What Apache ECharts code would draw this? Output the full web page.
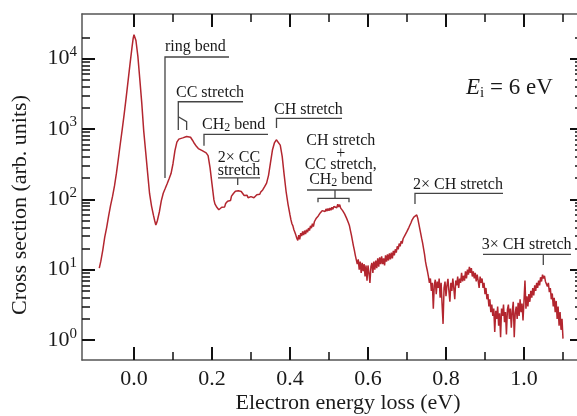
<!DOCTYPE html>
<html><head><meta charset="utf-8">
<script src="https://cdn.jsdelivr.net/npm/echarts@6/dist/echarts.min.js"></script>
<style>html,body{margin:0;padding:0;background:#fff}#c{width:577px;height:416px}</style>
</head><body><div id="c"></div>
<script>
// Electron energy loss (eV), cross section (arb. units)
const spectrum = [
[-0.089,10.5],[-0.085,13.2],[-0.080,19],[-0.075,29],[-0.070,40],[-0.065,58],[-0.060,82],[-0.055,110],
[-0.050,155],[-0.045,235],[-0.040,380],[-0.035,620],[-0.030,1000],[-0.025,1650],[-0.020,2800],[-0.015,4900],
[-0.010,8500],[-0.005,14500],[-0.002,19500],[0.000,21800],[0.002,21000],[0.005,18000],[0.010,10700],[0.015,5000],
[0.020,2300],[0.025,930],[0.030,470],[0.035,235],[0.040,120],[0.045,80],[0.050,59],[0.053,50],[0.056,43],
[0.058,46],[0.060,50],[0.065,66],[0.070,95],[0.075,122],[0.080,142],[0.085,166],[0.090,196],[0.095,232],
[0.100,320],[0.105,490],[0.110,650],[0.115,715],[0.120,725],[0.125,745],[0.130,760],[0.135,780],[0.140,795],
[0.145,760],[0.150,690],[0.155,620],[0.160,565],[0.165,525],[0.170,500],[0.175,490],[0.180,478],[0.185,457],
[0.190,417],[0.195,282],[0.200,166],[0.205,98],[0.2075,86],[0.210,82],[0.2125,77],[0.215,79],[0.2175,71],
[0.220,75],[0.2225,69],[0.225,77],[0.2275,73],[0.230,82],[0.2325,78],[0.235,87],[0.2375,83],[0.240,94],
[0.2425,89],[0.245,100],[0.2475,96],[0.250,111],[0.2525,106],[0.255,121],[0.2575,117],[0.260,130],[0.2625,126],
[0.265,137],[0.2675,132],[0.270,139],[0.2725,130],[0.275,129],[0.2775,121],[0.280,122],[0.2825,113],[0.285,117],
[0.2875,108],[0.290,114],[0.2925,105],[0.295,112],[0.2975,103],[0.300,109],[0.3025,104],[0.305,112],[0.3075,105],
[0.310,112],[0.3125,107],[0.315,116],[0.3175,111],[0.320,119],[0.3225,118],[0.325,127],[0.3275,127],[0.330,136],
[0.3325,141],[0.335,151],[0.340,170],[0.345,219],[0.350,331],[0.355,501],[0.360,631],[0.365,700],[0.368,708],
[0.370,692],[0.375,589],[0.380,407],[0.385,224],[0.390,129],[0.395,85],[0.400,60],
[0.4025,51],[0.405,45],[0.4075,42],[0.410,37],[0.4125,34],[0.415,31],[0.4175,28],[0.420,26],[0.4225,31],
[0.425,27],[0.4275,33],[0.430,30],[0.4325,35],[0.435,31],[0.4375,36],[0.440,32],[0.4425,37],[0.445,34],
[0.4475,39],[0.450,36],[0.4525,42],[0.455,39],[0.4575,45],[0.460,41],[0.4625,48],[0.465,48],[0.4675,54],
[0.470,51],[0.4725,58],[0.475,57],[0.4775,64],[0.480,61],[0.4825,69],[0.485,66],[0.4875,72],[0.490,67],
[0.4925,73],[0.495,68],[0.4975,74],[0.500,69],[0.5025,75],[0.505,70],[0.5075,77],[0.510,72],[0.5125,79],
[0.515,74],[0.5175,81],[0.520,76],[0.5225,85],[0.525,78],[0.5275,84],[0.530,75],[0.5325,75],[0.535,69],
[0.5375,68],[0.540,62],[0.5425,61],[0.545,54],[0.5475,53],[0.550,46],[0.5525,42],[0.555,36],[0.5575,31],
[0.560,26],[0.5625,22],[0.565,19],[0.5675,16],[0.570,15],[0.5725,12],[0.575,14],[0.5775,10],[0.580,13],
[0.5825,9],[0.585,12.5],[0.5875,9.5],[0.590,12],[0.5925,8],[0.595,11.5],[0.5975,7],[0.600,11.5],[0.6025,9],
[0.605,6.5],[0.6075,11],[0.610,12.5],[0.6125,9],[0.615,13],[0.6175,10],[0.620,13.5],[0.6225,10.5],[0.625,14.5],
[0.6275,11],[0.630,15],[0.6325,12],[0.635,15.5],[0.6375,12],[0.640,14.5],[0.6425,11.5],[0.645,16],[0.6475,13],
[0.650,16.5],[0.6525,13.5],[0.655,17],[0.6575,14],[0.660,17.5],[0.6625,14.5],[0.665,18.5],[0.6675,16],[0.670,19.5],
[0.6725,17.5],[0.675,21.5],[0.6775,19.5],[0.680,23.5],[0.6825,21.5],[0.685,25.5],[0.6875,23.5],[0.690,27.5],[0.6925,27.5],
[0.695,31],[0.6975,30],[0.700,35],[0.7025,36],[0.705,40],[0.7075,42],[0.710,46],[0.7125,50],[0.715,53],
[0.7175,56],[0.720,58],[0.7225,55],[0.725,60],[0.7275,54],[0.730,46],[0.7325,39],[0.735,33],[0.7375,28],
[0.740,24],[0.7425,20],[0.745,16.5],[0.7475,13],[0.750,11],[0.7525,9.5],[0.755,8],[0.7575,6.5],[0.760,7.5],
[0.7625,5],[0.765,6.5],[0.7675,2.8],[0.770,6],[0.7725,7.2],[0.775,4.5],[0.7775,6.8],[0.780,5.5],[0.7825,7.5],
[0.785,4],[0.7875,6.5],[0.790,3.2],[0.7925,1.7],[0.795,5.5],[0.7975,6.8],[0.800,4.2],[0.8025,6],[0.805,7.4],
[0.8075,5],[0.810,3.5],[0.8125,6.5],[0.815,5],[0.8175,7.5],[0.820,5.5],[0.8225,3.8],[0.825,7],[0.8275,6],
[0.830,8],[0.8325,5.5],[0.835,7.5],[0.8375,6.5],[0.840,9],[0.8425,6.8],[0.845,8.2],[0.8475,7],[0.850,9.5],
[0.8525,7.5],[0.855,10],[0.8575,8.5],[0.860,11],[0.8625,9],[0.865,10.5],[0.8675,8],[0.870,9.5],[0.8725,7.5],
[0.875,9],[0.8775,6.8],[0.880,8.5],[0.8825,7],[0.885,5.5],[0.8875,8],[0.890,6.5],[0.8925,7.5],[0.895,5.5],
[0.8975,6.5],[0.900,4.5],[0.9025,5.5],[0.905,3.8],[0.9075,4.5],[0.910,3],[0.9125,3.8],[0.915,2.5],[0.9175,3.2],
[0.920,2.2],[0.9225,2.8],[0.925,1.3],[0.9275,2.6],[0.930,2],[0.9325,3],[0.935,1.6],[0.9375,2.4],[0.940,1.1],
[0.9425,2.8],[0.945,2.2],[0.9475,3.2],[0.950,1.8],[0.9525,2.5],[0.955,1.2],[0.9575,2.7],[0.960,3.2],[0.9625,2],
[0.965,2.8],[0.9675,1.5],[0.970,2.6],[0.9725,3.5],[0.975,1.1],[0.9775,2.4],[0.980,3],[0.9825,2],[0.985,3.4],
[0.9875,2.2],[0.990,3.8],[0.9925,2.5],[0.995,3.3],[0.9975,1.9],[1.000,3.6],[1.0025,7],[1.005,2.8],[1.0075,4.2],
[1.010,3],[1.0125,4.5],[1.015,3.5],[1.0175,5],[1.020,4],[1.0225,5.5],[1.025,4.3],[1.0275,6],[1.030,5],
[1.0325,6.5],[1.035,5.5],[1.0375,7],[1.040,6],[1.0425,7.8],[1.045,6.8],[1.0475,8.5],[1.050,7.5],[1.0525,8.2],
[1.055,6.8],[1.0575,7.2],[1.060,5.8],[1.0625,6.5],[1.065,4.8],[1.0675,5.5],[1.070,3.8],[1.0725,4.6],[1.075,3],
[1.0775,4],[1.080,2.5],[1.0825,3.6],[1.085,2],[1.0875,3],[1.090,1.6],[1.0925,2.5],[1.095,1.4],[1.0975,2],[1.100,1.05]
];

const xMajorTicks = [0, 0.2, 0.4, 0.6, 0.8, 1.0];
const xMinorTicks = [0.1, 0.3, 0.5, 0.7, 0.9, 1.1];
const yMajorTicks = [1, 10, 100, 1000, 10000];
const yMinorTicks = [2,3,4,5,6,7,8,9, 20,30,40,50,60,70,80,90, 200,300,400,500,600,700,800,900,
  2000,3000,4000,5000,6000,7000,8000,9000, 20000];

// Peak assignments (bracket points in eV / cross-section units)
const annotations = [
  { texts: [{ text: 'ring bend', x: 0.0795, y: 14550, align: 'left' }],
    lines: [[[0.0795, 200], [0.0795, 10500], [0.2436, 10500]]] },
  { texts: [{ text: 'CC stretch', x: 0.1077, y: 3236, align: 'left' }],
    lines: [[[0.1136, 964], [0.1136, 2430], [0.2795, 2430]], [[0.1136, 1490], [0.135, 1265], [0.135, 964]]] },
  { texts: [{ text: '{n|CH}{s|2}{n| bend}', x: 0.1744, y: 1151, align: 'left' }],
    lines: [[[0.1795, 577], [0.1795, 838], [0.3436, 838]]] },
  { texts: [{ text: '2× CC', x: 0.2692, y: 386, align: 'center' }, { text: 'stretch', x: 0.2692, y: 256, align: 'center' }],
    lines: [[[0.2154, 201], [0.3231, 201]], [[0.2659, 201], [0.2659, 160]]] },
  { texts: [{ text: 'CH stretch', x: 0.359, y: 1879, align: 'left' }],
    lines: [[[0.3654, 1030], [0.3654, 1415], [0.5333, 1415]]] },
  { texts: [{ text: 'CH stretch', x: 0.5303, y: 673, align: 'center' }, { text: '+', x: 0.5303, y: 445, align: 'center' },
            { text: 'CC stretch,', x: 0.5303, y: 307, align: 'center' }, { text: '{n|CH}{s|2}{n| bend}', x: 0.5303, y: 188, align: 'center' }],
    lines: [[[0.4436, 135.5], [0.6103, 135.5]], [[0.5154, 135.5], [0.5154, 103.3]],
            [[0.4718, 90.6], [0.4718, 103.3], [0.5513, 103.3], [0.5513, 90.6]]] },
  { texts: [{ text: '2× CH stretch', x: 0.7154, y: 160, align: 'left' }],
    lines: [[[0.7205, 85.8], [0.7205, 121.7], [0.9462, 121.7]]] },
  { texts: [{ text: '3× CH stretch', x: 0.8915, y: 22.4, align: 'left' }],
    lines: [[[0.8949, 16.55], [1.1205, 16.55]], [[1.0495, 16.55], [1.0495, 11.67]]] }
];

const FONT = 'Liberation Serif';
const TXT = '#1a1a1a';
const AXIS_LINE = '#555';
const TICK = '#111';
const X_MIN = -0.1333, X_MAX = 1.1513, Y_MIN = 0.5216, Y_MAX = 42850;
const LY_MIN = Math.log10(Y_MIN), LY_MAX = Math.log10(Y_MAX);

function xAx(pos, ticks, len, showLine, showLabel) {
  return {
    type: 'value', position: pos, min: X_MIN, max: X_MAX,
    axisLine: { show: showLine, onZero: false, lineStyle: { color: AXIS_LINE, width: 1.5 } },
    axisTick: { show: true, inside: true, length: len, customValues: ticks, lineStyle: { color: TICK, width: len > 10 ? 2 : 1.5 } },
    axisLabel: showLabel ? { show: true, customValues: ticks, margin: 8, formatter: v => v.toFixed(1),
      fontFamily: FONT, fontSize: 22, color: TXT } : { show: false },
    splitLine: { show: false }
  };
}
function yAx(pos, ticks, len, showLine, showLabel) {
  const lv = ticks.map(v => Math.log10(v));
  return {
    type: 'value', position: pos, min: LY_MIN, max: LY_MAX,
    axisLine: { show: showLine, onZero: false, lineStyle: { color: AXIS_LINE, width: 1.5 } },
    axisTick: { show: true, inside: true, length: len, customValues: lv, lineStyle: { color: TICK, width: len > 10 ? 2 : 1.5 } },
    axisLabel: showLabel ? { show: true, customValues: lv, margin: 5,
      formatter: v => '{b|10}{s|' + Math.round(v) + '}',
      rich: { b: { fontFamily: FONT, fontSize: 22, lineHeight: 28, color: TXT },
              s: { fontFamily: FONT, fontSize: 15, lineHeight: 15, verticalAlign: 'top', color: TXT } } } : { show: false },
    splitLine: { show: false }
  };
}

const annRich = {
  n: { fontFamily: FONT, fontSize: 16, lineHeight: 18, color: TXT, fill: TXT },
  s: { fontFamily: FONT, fontSize: 12, lineHeight: 12, verticalAlign: 'bottom', color: TXT, fill: TXT }
};

const chart = echarts.init(document.getElementById('c'), null, { renderer: 'canvas' });
chart.setOption({
  animation: false,
  backgroundColor: '#fff',
  grid: { left: 82, top: 14, width: 501, height: 346, containLabel: false, outerBoundsMode: 'none' },
  xAxis: [
    xAx('bottom', xMajorTicks, 13, true, true),
    xAx('bottom', xMinorTicks, 8, false, false),
    xAx('top', xMajorTicks, 13, true, false),
    xAx('top', xMinorTicks, 8, false, false)
  ],
  yAxis: [
    { type: 'log', logBase: 10, min: Y_MIN, max: Y_MAX, axisLine: { show: false, onZero: false },
      axisTick: { show: false }, axisLabel: { show: false }, splitLine: { show: false }, minorTick: { show: false } },
    yAx('left', yMajorTicks, 13, true, true),
    yAx('left', yMinorTicks, 8, false, false),
    yAx('right', yMajorTicks, 13, true, false),
    yAx('right', yMinorTicks, 8, false, false)
  ],
  series: [
    { type: 'line', xAxisIndex: 0, yAxisIndex: 0, data: spectrum, showSymbol: false, symbol: 'none',
      lineStyle: { color: '#b3262f', width: 1.5 }, silent: true, z: 3 },
    { type: 'custom', xAxisIndex: 0, yAxisIndex: 0, data: [[0, 1]], silent: true, clip: false, z: 4,
      renderItem: function (params, api) {
        const children = [];
        annotations.forEach(a => {
          a.lines.forEach(pts => children.push({
            type: 'polyline', shape: { points: pts.map(p => api.coord(p)) },
            style: { stroke: '#444', lineWidth: 1.3, fill: null }
          }));
          a.texts.forEach(t => {
            const p = api.coord([t.x, t.y]);
            const isRich = t.text.indexOf('{') === 0;
            children.push({
              type: 'text', x: p[0], y: p[1],
              style: { text: isRich ? t.text : '{n|' + t.text + '}', rich: annRich,
                fontFamily: FONT, fontSize: 16, fill: TXT,
                align: t.align, verticalAlign: 'middle', textAlign: t.align, textVerticalAlign: 'middle' }
            });
          });
        });
        return { type: 'group', children: children };
      }
    }
  ],
  graphic: [
    { type: 'text', x: 348, y: 403, silent: true,
      style: { text: 'Electron energy loss (eV)', font: '22px "Liberation Serif"', fill: TXT,
        align: 'center', verticalAlign: 'middle', textAlign: 'center', textVerticalAlign: 'middle' } },
    { type: 'text', x: 20, y: 205, rotation: Math.PI / 2, silent: true,
      style: { text: 'Cross section (arb. units)', font: '22px "Liberation Serif"', fill: TXT,
        align: 'center', verticalAlign: 'middle', textAlign: 'center', textVerticalAlign: 'middle' } },
    { type: 'text', x: 466, y: 88, silent: true,
      style: { text: '{e|E}{i|i}{n| = 6 eV}', fill: TXT,
        rich: { e: { fontFamily: FONT, fontSize: 23, fontStyle: 'italic', lineHeight: 26, fill: TXT },
                i: { fontFamily: FONT, fontSize: 15, lineHeight: 15, verticalAlign: 'bottom', fill: TXT },
                n: { fontFamily: FONT, fontSize: 23, lineHeight: 26, fill: TXT } },
        align: 'left', verticalAlign: 'middle', textAlign: 'left', textVerticalAlign: 'middle' } }
  ]
});
</script></body></html>
